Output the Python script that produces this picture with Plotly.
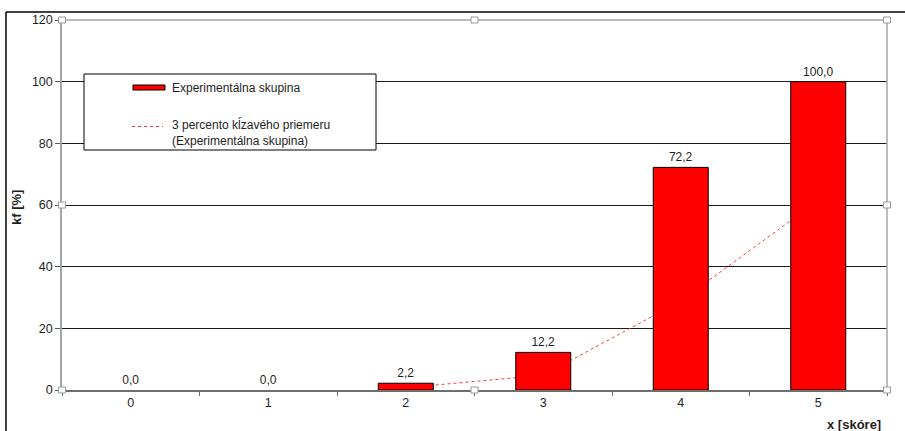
import pandas as pd
import plotly.graph_objects as go

# Score categories and cumulative relative frequency (%) of the experimental group
scores = ["0", "1", "2", "3", "4", "5"]
kf_experimental = [0.0, 0.0, 2.2, 12.2, 72.2, 100.0]

# 3-period moving average of the same series (first two periods undefined)
moving_avg = pd.Series(kf_experimental).rolling(3).mean()
ma_x = [s for s, v in zip(scores, moving_avg) if pd.notna(v)]
ma_y = [v for v in moving_avg if pd.notna(v)]

series_name = "Experimentálna skupina"
trend_name = "3 percento kĺzavého priemeru<br>(Experimentálna skupina)"
y_title = "kf [%]"
x_title = "x [skóre]"

W, H = 905, 431
ML, MR, MT, MB = 62, 18, 20, 41
PW, PH = W - ML - MR, H - MT - MB


def px(x):
    return (x - ML) / PW


def py(y):
    return (H - MB - y) / PH


FONT = "Liberation Sans, Arial, sans-serif"
TXT = "#1e1e1e"

fig = go.Figure()

# moving average sits underneath the bars
fig.add_trace(go.Scatter(
    x=ma_x, y=ma_y, mode="lines", name=trend_name,
    line=dict(color="#ff3b3b", width=1, dash="dot"),
    xaxis="x", yaxis="y", showlegend=False,
))

# zero-height bars get no outline
bar_outline = [1 if v > 0 else 0 for v in kf_experimental]

fig.add_trace(go.Bar(
    x=scores, y=kf_experimental, name=series_name, width=0.4,
    marker=dict(color="#ff0000", line=dict(color="#000000", width=bar_outline)),
    texttemplate="%{y:.1f}", textposition="outside",
    textfont=dict(family=FONT, size=12, color=TXT),
    cliponaxis=False, xaxis="x", yaxis="y2", showlegend=False,
))

shapes = []

# outer chart frame (top and left edges)
shapes.append(dict(type="line", xref="paper", yref="paper",
                   x0=px(6), x1=px(910), y0=py(12), y1=py(12),
                   line=dict(color="#000000", width=1.5)))
shapes.append(dict(type="line", xref="paper", yref="paper",
                   x0=px(6), x1=px(6), y0=py(12), y1=py(440),
                   line=dict(color="#000000", width=1.5)))

# plot-area border on top and right
shapes.append(dict(type="line", xref="paper", yref="paper",
                   x0=0, x1=1, y0=1, y1=1,
                   line=dict(color="#a6a6a6", width=1.5)))
shapes.append(dict(type="line", xref="paper", yref="paper",
                   x0=1, x1=1, y0=0, y1=1,
                   line=dict(color="#a6a6a6", width=1.5)))

# legend box
shapes.append(dict(type="rect", xref="paper", yref="paper",
                   x0=px(84), x1=px(376), y0=py(150), y1=py(74),
                   fillcolor="white", line=dict(color="#000000", width=1)))
shapes.append(dict(type="rect", xref="paper", yref="paper",
                   x0=px(133), x1=px(165), y0=py(90), y1=py(85),
                   fillcolor="#ff0000", line=dict(color="#000000", width=1)))
shapes.append(dict(type="line", xref="paper", yref="paper",
                   x0=px(132), x1=px(163), y0=py(126.5), y1=py(126.5),
                   line=dict(color="#ff3b3b", width=1, dash="dot")))

# selection handles around the plot area
for hx, hy in [(0, 1), (0.5, 1), (1, 1), (0, 0.5), (1, 0.5), (0, 0), (0.5, 0), (1, 0)]:
    shapes.append(dict(type="rect", xref="paper", yref="paper",
                       xsizemode="pixel", ysizemode="pixel",
                       xanchor=hx, yanchor=hy,
                       x0=-3.5, x1=3.5, y0=-3, y1=3,
                       fillcolor="white", line=dict(color="#9a9a9a", width=1)))

annotations = [
    dict(text=series_name, xref="paper", yref="paper", x=px(170), y=py(87.5),
         xanchor="left", yanchor="middle", showarrow=False,
         font=dict(family=FONT, size=12, color=TXT)),
    dict(text=trend_name, xref="paper", yref="paper", x=px(170), y=py(132),
         xanchor="left", yanchor="middle", align="left", showarrow=False,
         font=dict(family=FONT, size=12, color=TXT)),
    dict(text=f"<b>{y_title}</b>", xref="paper", yref="paper", x=px(17), y=py(208),
         xanchor="center", yanchor="middle", textangle=-90, showarrow=False,
         font=dict(family=FONT, size=13, color=TXT)),
    dict(text=f"<b>{x_title}</b>", xref="paper", yref="paper", x=px(883), y=py(424),
         xanchor="right", yanchor="middle", showarrow=False,
         font=dict(family=FONT, size=13, color=TXT)),
]

fig.update_layout(
    width=W, height=H,
    margin=dict(l=ML, r=MR, t=MT, b=MB, pad=0),
    paper_bgcolor="white", plot_bgcolor="white",
    separators=", ",
    showlegend=False,
    bargap=0.6,
    font=dict(family=FONT, size=12, color=TXT),
    xaxis=dict(
        type="category", categoryorder="array", categoryarray=scores,
        range=[-0.5, 5.5], showgrid=False, zeroline=False,
        showline=True, linecolor="#6e6e6e", linewidth=1.5,
        ticks="outside", tickson="boundaries", ticklen=4,
        tickcolor="#6e6e6e", tickwidth=1,
        tickfont=dict(family=FONT, size=12.5, color=TXT),
    ),
    yaxis=dict(
        range=[0, 120], dtick=20, tick0=0,
        showgrid=True, gridcolor="#1a1a1a", gridwidth=1, zeroline=False,
        showline=True, linecolor="#a6a6a6", linewidth=1.5,
        ticks="outside", ticklen=5, tickcolor="#555555", tickwidth=1,
        tickfont=dict(family=FONT, size=12.5, color=TXT),
    ),
    yaxis2=dict(
        range=[0, 120], overlaying="y", visible=False,
        showgrid=False, zeroline=False,
    ),
    shapes=shapes,
    annotations=annotations,
)

fig.write_html("out.html")
